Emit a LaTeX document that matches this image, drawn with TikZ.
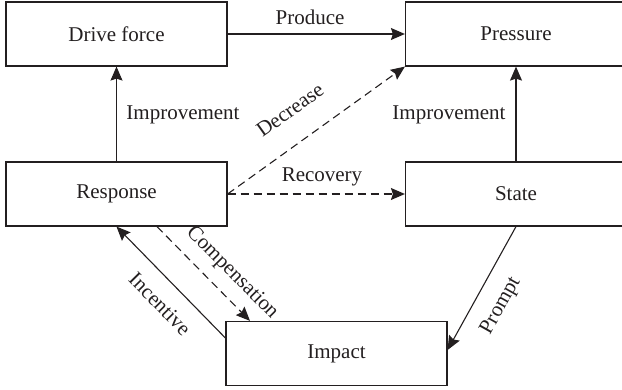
\documentclass[tikz,border=0pt]{standalone}
\usepackage{fontspec}
\setmainfont{Liberation Serif}
\usetikzlibrary{arrows.meta}
\definecolor{ink}{RGB}{35,31,32}
\begin{document}
\begin{tikzpicture}[x=0.5pt,y=-0.5pt,
  box/.style={draw=ink,line width=0.6pt,inner sep=0pt,minimum width=110.5pt,minimum height=32pt,text=ink},
  every node/.append style={font=\fontsize{10.5}{12}\selectfont,text=ink},
  conn/.style={draw=ink,line width=0.55pt,-{Stealth[length=7pt,width=6pt,inset=1pt]}},
  dconn/.style={conn,dash pattern=on 4pt off 2.5pt}]
\useasboundingbox (0,0) rectangle (622,390);
\node[box] (df) at (116.5,34) {Drive force};
\node[box] (pr) at (516,34) {Pressure};
\node[box] (re) at (116.5,194) {Response};
\node[box] (st) at (516,194) {State};
\node[box] (im) at (336.5,353.5) {Impact};
\coordinate (cs) at ([xshift=20.25pt]re.south);
\coordinate (ce) at ([xshift=-43.25pt]im.north);
\coordinate (is) at ([yshift=7.75pt]im.west);
\coordinate (pe) at ([yshift=1.75pt]im.east);
\draw[conn] (df.east) -- (pr.west);
\draw[conn] (re.north) -- (df.south);
\draw[conn] (st.north) -- (pr.south);
\draw[dconn] (re.east) -- (st.west);
\draw[dconn] (re.east) -- (pr.south west);
\draw[dconn] (cs) -- (ce);
\draw[conn] (is) -- (re.south);
\draw[conn] (st.south) -- (pe);
\node (lp) at (310,17) {Produce};
\node (li1) at (183,115) {Improvement};
\node (li2) at (449,115) {Improvement};
\node (lr) at (322,177) {Recovery};
\node[rotate=35.4] (ld) at (290,110) {Decrease};
\node[rotate=-45.3] (lc) at (232,273) {Compensation};
\node[rotate=-45.5] (lin) at (160,304) {Incentive};
\node[rotate=60.6] (lpr) at (501,306) {Prompt};
\end{tikzpicture}
\end{document}
